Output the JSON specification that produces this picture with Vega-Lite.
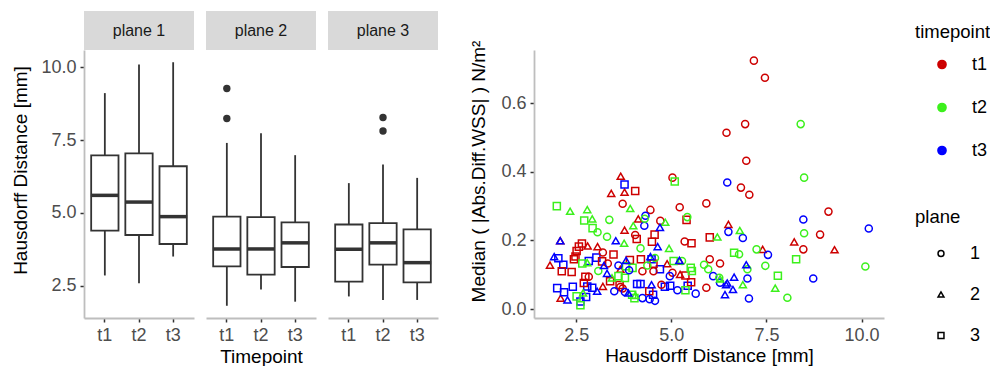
{
  "$schema": "https://vega.github.io/schema/vega-lite/v6.json",
  "padding": {"left": 11, "top": 11, "right": 0, "bottom": 0},
  "config": {
    "font": "Liberation Sans",
    "view": {"stroke": null},
    "axis": {"grid": false, "domainColor": "#BEBEBE", "domainWidth": 1.8, "tickColor": "#333333", "tickWidth": 1.5, "tickSize": 4, "labelFontSize": 18, "labelColor": "#4D4D4D", "titleFontSize": 19, "titleFontWeight": "normal", "titleColor": "#000000", "labelPadding": 4, "titlePadding": 10}
  },
  "datasets": {
    "boxes": [
      {"plane": 1, "timepoint": "t1", "lower": 2.85, "q1": 4.39, "median": 5.6, "q3": 6.97, "upper": 9.11},
      {"plane": 1, "timepoint": "t2", "lower": 2.58, "q1": 4.24, "median": 5.37, "q3": 7.04, "upper": 10.09},
      {"plane": 1, "timepoint": "t3", "lower": 3.5, "q1": 3.93, "median": 4.87, "q3": 6.6, "upper": 10.17},
      {"plane": 2, "timepoint": "t1", "lower": 1.81, "q1": 3.16, "median": 3.76, "q3": 4.87, "upper": 7.4},
      {"plane": 2, "timepoint": "t2", "lower": 2.37, "q1": 2.88, "median": 3.76, "q3": 4.85, "upper": 7.73},
      {"plane": 2, "timepoint": "t3", "lower": 1.95, "q1": 3.14, "median": 3.97, "q3": 4.67, "upper": 6.98},
      {"plane": 3, "timepoint": "t1", "lower": 2.13, "q1": 2.64, "median": 3.75, "q3": 4.6, "upper": 6.02},
      {"plane": 3, "timepoint": "t2", "lower": 2.01, "q1": 3.22, "median": 3.97, "q3": 4.65, "upper": 6.66},
      {"plane": 3, "timepoint": "t3", "lower": 2.01, "q1": 2.61, "median": 3.29, "q3": 4.43, "upper": 6.2}
    ],
    "outliers": [
      {"plane": 2, "timepoint": "t1", "hd": 9.27},
      {"plane": 2, "timepoint": "t1", "hd": 8.24},
      {"plane": 3, "timepoint": "t2", "hd": 8.27},
      {"plane": 3, "timepoint": "t2", "hd": 7.81}
    ],
    "points": [
      {"hd": 3.67, "wss": 0.387, "timepoint": "t1", "plane": 2},
      {"hd": 3.42, "wss": 0.337, "timepoint": "t1", "plane": 2},
      {"hd": 3.77, "wss": 0.341, "timepoint": "t1", "plane": 2},
      {"hd": 4.13, "wss": 0.263, "timepoint": "t1", "plane": 2},
      {"hd": 3.77, "wss": 0.23, "timepoint": "t1", "plane": 2},
      {"hd": 2.8, "wss": 0.184, "timepoint": "t1", "plane": 2},
      {"hd": 3.06, "wss": 0.182, "timepoint": "t1", "plane": 2},
      {"hd": 1.81, "wss": 0.128, "timepoint": "t1", "plane": 2},
      {"hd": 3.66, "wss": 0.116, "timepoint": "t1", "plane": 2},
      {"hd": 4.89, "wss": 0.132, "timepoint": "t1", "plane": 2},
      {"hd": 5.22, "wss": 0.14, "timepoint": "t1", "plane": 2},
      {"hd": 5.23, "wss": 0.101, "timepoint": "t1", "plane": 2},
      {"hd": 2.09, "wss": 0.032, "timepoint": "t1", "plane": 2},
      {"hd": 3.2, "wss": 0.066, "timepoint": "t1", "plane": 2},
      {"hd": 6.5, "wss": 0.247, "timepoint": "t1", "plane": 2},
      {"hd": 8.23, "wss": 0.196, "timepoint": "t1", "plane": 2},
      {"hd": 9.29, "wss": 0.173, "timepoint": "t1", "plane": 2},
      {"hd": 7.4, "wss": 0.174, "timepoint": "t1", "plane": 2},
      {"hd": 2.08, "wss": 0.199, "timepoint": "t1", "plane": 2},
      {"hd": 3.77, "wss": 0.363, "timepoint": "t3", "plane": 3},
      {"hd": 2.03, "wss": 0.148, "timepoint": "t3", "plane": 3},
      {"hd": 2.16, "wss": 0.129, "timepoint": "t3", "plane": 3},
      {"hd": 2.83, "wss": 0.14, "timepoint": "t3", "plane": 3},
      {"hd": 3.03, "wss": 0.15, "timepoint": "t3", "plane": 3},
      {"hd": 4.48, "wss": 0.145, "timepoint": "t3", "plane": 3},
      {"hd": 4.7, "wss": 0.116, "timepoint": "t3", "plane": 3},
      {"hd": 2.0, "wss": 0.061, "timepoint": "t3", "plane": 3},
      {"hd": 2.18, "wss": 0.049, "timepoint": "t3", "plane": 3},
      {"hd": 2.41, "wss": 0.065, "timepoint": "t3", "plane": 3},
      {"hd": 2.61, "wss": 0.022, "timepoint": "t3", "plane": 3},
      {"hd": 2.76, "wss": 0.035, "timepoint": "t3", "plane": 3},
      {"hd": 2.79, "wss": 0.066, "timepoint": "t3", "plane": 3},
      {"hd": 2.92, "wss": 0.062, "timepoint": "t3", "plane": 3},
      {"hd": 4.19, "wss": 0.073, "timepoint": "t3", "plane": 3},
      {"hd": 4.1, "wss": 0.073, "timepoint": "t3", "plane": 3},
      {"hd": 4.52, "wss": 0.042, "timepoint": "t3", "plane": 3},
      {"hd": 4.97, "wss": 0.068, "timepoint": "t3", "plane": 3},
      {"hd": 4.83, "wss": 0.065, "timepoint": "t3", "plane": 3},
      {"hd": 5.43, "wss": 0.068, "timepoint": "t3", "plane": 3},
      {"hd": 4.05, "wss": 0.344, "timepoint": "t1", "plane": 3},
      {"hd": 5.4, "wss": 0.26, "timepoint": "t1", "plane": 3},
      {"hd": 4.56, "wss": 0.217, "timepoint": "t1", "plane": 3},
      {"hd": 4.09, "wss": 0.204, "timepoint": "t1", "plane": 3},
      {"hd": 4.49, "wss": 0.196, "timepoint": "t1", "plane": 3},
      {"hd": 5.53, "wss": 0.192, "timepoint": "t1", "plane": 3},
      {"hd": 6.01, "wss": 0.209, "timepoint": "t1", "plane": 3},
      {"hd": 2.65, "wss": 0.191, "timepoint": "t1", "plane": 3},
      {"hd": 3.48, "wss": 0.159, "timepoint": "t1", "plane": 3},
      {"hd": 2.57, "wss": 0.182, "timepoint": "t1", "plane": 3},
      {"hd": 2.51, "wss": 0.169, "timepoint": "t1", "plane": 3},
      {"hd": 2.12, "wss": 0.11, "timepoint": "t1", "plane": 3},
      {"hd": 2.38, "wss": 0.108, "timepoint": "t1", "plane": 3},
      {"hd": 2.44, "wss": 0.145, "timepoint": "t1", "plane": 3},
      {"hd": 2.48, "wss": 0.153, "timepoint": "t1", "plane": 3},
      {"hd": 3.18, "wss": 0.139, "timepoint": "t1", "plane": 3},
      {"hd": 3.91, "wss": 0.143, "timepoint": "t1", "plane": 3},
      {"hd": 4.2, "wss": 0.145, "timepoint": "t1", "plane": 3},
      {"hd": 4.53, "wss": 0.132, "timepoint": "t1", "plane": 3},
      {"hd": 5.37, "wss": 0.098, "timepoint": "t1", "plane": 3},
      {"hd": 2.7, "wss": 0.076, "timepoint": "t1", "plane": 3},
      {"hd": 2.74, "wss": 0.094, "timepoint": "t1", "plane": 3},
      {"hd": 3.39, "wss": 0.081, "timepoint": "t1", "plane": 3},
      {"hd": 3.64, "wss": 0.07, "timepoint": "t1", "plane": 3},
      {"hd": 4.42, "wss": 0.052, "timepoint": "t1", "plane": 3},
      {"hd": 5.52, "wss": 0.078, "timepoint": "t1", "plane": 3},
      {"hd": 5.03, "wss": 0.383, "timepoint": "t1", "plane": 1},
      {"hd": 3.72, "wss": 0.307, "timepoint": "t1", "plane": 1},
      {"hd": 4.45, "wss": 0.289, "timepoint": "t1", "plane": 1},
      {"hd": 5.22, "wss": 0.297, "timepoint": "t1", "plane": 1},
      {"hd": 5.92, "wss": 0.308, "timepoint": "t1", "plane": 1},
      {"hd": 4.71, "wss": 0.257, "timepoint": "t1", "plane": 1},
      {"hd": 4.05, "wss": 0.216, "timepoint": "t1", "plane": 1},
      {"hd": 5.35, "wss": 0.197, "timepoint": "t1", "plane": 1},
      {"hd": 3.2, "wss": 0.165, "timepoint": "t1", "plane": 1},
      {"hd": 3.33, "wss": 0.133, "timepoint": "t1", "plane": 1},
      {"hd": 4.24, "wss": 0.11, "timepoint": "t1", "plane": 1},
      {"hd": 4.53, "wss": 0.11, "timepoint": "t1", "plane": 1},
      {"hd": 5.03, "wss": 0.106, "timepoint": "t1", "plane": 1},
      {"hd": 6.01, "wss": 0.145, "timepoint": "t1", "plane": 1},
      {"hd": 6.28, "wss": 0.133, "timepoint": "t1", "plane": 1},
      {"hd": 2.83, "wss": 0.094, "timepoint": "t1", "plane": 1},
      {"hd": 3.66, "wss": 0.064, "timepoint": "t1", "plane": 1},
      {"hd": 3.72, "wss": 0.06, "timepoint": "t1", "plane": 1},
      {"hd": 4.74, "wss": 0.071, "timepoint": "t1", "plane": 1},
      {"hd": 5.92, "wss": 0.062, "timepoint": "t1", "plane": 1},
      {"hd": 7.17, "wss": 0.724, "timepoint": "t1", "plane": 1},
      {"hd": 7.46, "wss": 0.674, "timepoint": "t1", "plane": 1},
      {"hd": 6.94, "wss": 0.539, "timepoint": "t1", "plane": 1},
      {"hd": 6.45, "wss": 0.514, "timepoint": "t1", "plane": 1},
      {"hd": 6.97, "wss": 0.432, "timepoint": "t1", "plane": 1},
      {"hd": 6.83, "wss": 0.354, "timepoint": "t1", "plane": 1},
      {"hd": 7.05, "wss": 0.333, "timepoint": "t1", "plane": 1},
      {"hd": 9.13, "wss": 0.284, "timepoint": "t1", "plane": 1},
      {"hd": 8.91, "wss": 0.217, "timepoint": "t1", "plane": 1},
      {"hd": 8.47, "wss": 0.174, "timepoint": "t1", "plane": 1},
      {"hd": 5.09, "wss": 0.372, "timepoint": "t2", "plane": 3},
      {"hd": 1.99, "wss": 0.3, "timepoint": "t2", "plane": 3},
      {"hd": 2.71, "wss": 0.258, "timepoint": "t2", "plane": 3},
      {"hd": 2.93, "wss": 0.236, "timepoint": "t2", "plane": 3},
      {"hd": 2.66, "wss": 0.133, "timepoint": "t2", "plane": 3},
      {"hd": 3.81, "wss": 0.125, "timepoint": "t2", "plane": 3},
      {"hd": 3.98, "wss": 0.12, "timepoint": "t2", "plane": 3},
      {"hd": 5.06, "wss": 0.14, "timepoint": "t2", "plane": 3},
      {"hd": 5.51, "wss": 0.12, "timepoint": "t2", "plane": 3},
      {"hd": 5.54, "wss": 0.111, "timepoint": "t2", "plane": 3},
      {"hd": 2.51, "wss": 0.037, "timepoint": "t2", "plane": 3},
      {"hd": 2.61, "wss": 0.011, "timepoint": "t2", "plane": 3},
      {"hd": 3.61, "wss": 0.096, "timepoint": "t2", "plane": 3},
      {"hd": 3.78, "wss": 0.091, "timepoint": "t2", "plane": 3},
      {"hd": 3.97, "wss": 0.042, "timepoint": "t2", "plane": 3},
      {"hd": 4.03, "wss": 0.032, "timepoint": "t2", "plane": 3},
      {"hd": 5.37, "wss": 0.055, "timepoint": "t2", "plane": 3},
      {"hd": 6.65, "wss": 0.164, "timepoint": "t2", "plane": 3},
      {"hd": 8.28, "wss": 0.145, "timepoint": "t2", "plane": 3},
      {"hd": 7.8, "wss": 0.097, "timepoint": "t2", "plane": 3},
      {"hd": 6.47, "wss": 0.369, "timepoint": "t3", "plane": 1},
      {"hd": 4.29, "wss": 0.243, "timepoint": "t3", "plane": 1},
      {"hd": 4.32, "wss": 0.272, "timepoint": "t3", "plane": 1},
      {"hd": 3.61, "wss": 0.127, "timepoint": "t3", "plane": 1},
      {"hd": 3.89, "wss": 0.113, "timepoint": "t3", "plane": 1},
      {"hd": 4.96, "wss": 0.096, "timepoint": "t3", "plane": 1},
      {"hd": 6.1, "wss": 0.096, "timepoint": "t3", "plane": 1},
      {"hd": 3.5, "wss": 0.052, "timepoint": "t3", "plane": 1},
      {"hd": 3.78, "wss": 0.05, "timepoint": "t3", "plane": 1},
      {"hd": 4.24, "wss": 0.032, "timepoint": "t3", "plane": 1},
      {"hd": 4.43, "wss": 0.029, "timepoint": "t3", "plane": 1},
      {"hd": 4.57, "wss": 0.024, "timepoint": "t3", "plane": 1},
      {"hd": 5.16, "wss": 0.055, "timepoint": "t3", "plane": 1},
      {"hd": 5.64, "wss": 0.045, "timepoint": "t3", "plane": 1},
      {"hd": 8.47, "wss": 0.261, "timepoint": "t3", "plane": 1},
      {"hd": 10.19, "wss": 0.235, "timepoint": "t3", "plane": 1},
      {"hd": 6.5, "wss": 0.225, "timepoint": "t3", "plane": 1},
      {"hd": 6.88, "wss": 0.207, "timepoint": "t3", "plane": 1},
      {"hd": 7.54, "wss": 0.158, "timepoint": "t3", "plane": 1},
      {"hd": 7.0, "wss": 0.089, "timepoint": "t3", "plane": 1},
      {"hd": 8.73, "wss": 0.089, "timepoint": "t3", "plane": 1},
      {"hd": 7.04, "wss": 0.031, "timepoint": "t3", "plane": 1},
      {"hd": 6.28, "wss": 0.077, "timepoint": "t3", "plane": 1},
      {"hd": 2.34, "wss": 0.285, "timepoint": "t2", "plane": 2},
      {"hd": 2.79, "wss": 0.29, "timepoint": "t2", "plane": 2},
      {"hd": 3.92, "wss": 0.293, "timepoint": "t2", "plane": 2},
      {"hd": 2.92, "wss": 0.263, "timepoint": "t2", "plane": 2},
      {"hd": 4.0, "wss": 0.243, "timepoint": "t2", "plane": 2},
      {"hd": 4.84, "wss": 0.253, "timepoint": "t2", "plane": 2},
      {"hd": 6.21, "wss": 0.21, "timepoint": "t2", "plane": 2},
      {"hd": 3.76, "wss": 0.192, "timepoint": "t2", "plane": 2},
      {"hd": 4.94, "wss": 0.177, "timepoint": "t2", "plane": 2},
      {"hd": 2.79, "wss": 0.135, "timepoint": "t2", "plane": 2},
      {"hd": 3.44, "wss": 0.091, "timepoint": "t2", "plane": 2},
      {"hd": 2.68, "wss": 0.047, "timepoint": "t2", "plane": 2},
      {"hd": 6.8, "wss": 0.229, "timepoint": "t2", "plane": 2},
      {"hd": 6.28, "wss": 0.088, "timepoint": "t2", "plane": 2},
      {"hd": 6.88, "wss": 0.071, "timepoint": "t2", "plane": 2},
      {"hd": 7.73, "wss": 0.061, "timepoint": "t2", "plane": 2},
      {"hd": 4.05, "wss": 0.04, "timepoint": "t2", "plane": 2},
      {"hd": 3.37, "wss": 0.26, "timepoint": "t2", "plane": 1},
      {"hd": 3.06, "wss": 0.224, "timepoint": "t2", "plane": 1},
      {"hd": 3.31, "wss": 0.211, "timepoint": "t2", "plane": 1},
      {"hd": 4.3, "wss": 0.263, "timepoint": "t2", "plane": 1},
      {"hd": 5.42, "wss": 0.268, "timepoint": "t2", "plane": 1},
      {"hd": 4.19, "wss": 0.177, "timepoint": "t2", "plane": 1},
      {"hd": 3.08, "wss": 0.111, "timepoint": "t2", "plane": 1},
      {"hd": 4.37, "wss": 0.127, "timepoint": "t2", "plane": 1},
      {"hd": 4.57, "wss": 0.149, "timepoint": "t2", "plane": 1},
      {"hd": 5.28, "wss": 0.14, "timepoint": "t2", "plane": 1},
      {"hd": 5.86, "wss": 0.129, "timepoint": "t2", "plane": 1},
      {"hd": 5.97, "wss": 0.116, "timepoint": "t2", "plane": 1},
      {"hd": 6.26, "wss": 0.091, "timepoint": "t2", "plane": 1},
      {"hd": 8.4, "wss": 0.539, "timepoint": "t2", "plane": 1},
      {"hd": 8.49, "wss": 0.383, "timepoint": "t2", "plane": 1},
      {"hd": 8.49, "wss": 0.221, "timepoint": "t2", "plane": 1},
      {"hd": 7.24, "wss": 0.174, "timepoint": "t2", "plane": 1},
      {"hd": 6.78, "wss": 0.16, "timepoint": "t2", "plane": 1},
      {"hd": 7.47, "wss": 0.126, "timepoint": "t2", "plane": 1},
      {"hd": 10.1, "wss": 0.124, "timepoint": "t2", "plane": 1},
      {"hd": 7.0, "wss": 0.116, "timepoint": "t2", "plane": 1},
      {"hd": 8.05, "wss": 0.033, "timepoint": "t2", "plane": 1},
      {"hd": 4.7, "wss": 0.238, "timepoint": "t3", "plane": 2},
      {"hd": 2.08, "wss": 0.199, "timepoint": "t3", "plane": 2},
      {"hd": 3.54, "wss": 0.199, "timepoint": "t3", "plane": 2},
      {"hd": 4.64, "wss": 0.182, "timepoint": "t3", "plane": 2},
      {"hd": 1.92, "wss": 0.153, "timepoint": "t3", "plane": 2},
      {"hd": 3.23, "wss": 0.127, "timepoint": "t3", "plane": 2},
      {"hd": 3.31, "wss": 0.104, "timepoint": "t3", "plane": 2},
      {"hd": 3.81, "wss": 0.142, "timepoint": "t3", "plane": 2},
      {"hd": 4.45, "wss": 0.153, "timepoint": "t3", "plane": 2},
      {"hd": 6.47, "wss": 0.076, "timepoint": "t3", "plane": 2},
      {"hd": 2.27, "wss": 0.027, "timepoint": "t3", "plane": 2},
      {"hd": 3.05, "wss": 0.052, "timepoint": "t3", "plane": 2},
      {"hd": 3.87, "wss": 0.047, "timepoint": "t3", "plane": 2},
      {"hd": 4.48, "wss": 0.071, "timepoint": "t3", "plane": 2},
      {"hd": 6.97, "wss": 0.129, "timepoint": "t3", "plane": 2},
      {"hd": 6.65, "wss": 0.093, "timepoint": "t3", "plane": 2},
      {"hd": 6.44, "wss": 0.071, "timepoint": "t3", "plane": 2},
      {"hd": 6.41, "wss": 0.042, "timepoint": "t3", "plane": 2},
      {"hd": 6.62, "wss": 0.057, "timepoint": "t3", "plane": 2},
      {"hd": 5.21, "wss": 0.142, "timepoint": "t3", "plane": 2}
    ]
  },
  "spacing": 31,
  "resolve": {"scale": {"color": "independent", "shape": "independent"}, "legend": {"color": "independent", "shape": "independent"}},
  "hconcat": [
    {
      "spacing": 12,
      "hconcat": [
        {
          "spacing": 0,
          "vconcat": [
            {"width": 110, "height": 39, "data": {"values": [{"label": "plane 1"}]}, "view": {"fill": "#D9D9D9", "stroke": null},
             "mark": {"type": "text", "fontSize": 16, "color": "#1A1A1A"}, "encoding": {"text": {"field": "label"}}},
            {
              "width": 110, "height": 268,
              "layer": [
                {"data": {"name": "boxes"}, "transform": [{"filter": "datum.plane == 1"}], "mark": {"type": "rule", "color": "#333333", "strokeWidth": 1.8},
                 "encoding": {"x": {"field": "timepoint", "type": "nominal", "scale": {"domain": ["t1", "t2", "t3"], "paddingInner": 0.2, "paddingOuter": 0.21}, "axis": {"title": null, "labelAngle": 0}},
                              "y": {"field": "lower", "type": "quantitative", "scale": {"domain": [1.39, 10.59], "nice": false, "zero": false}, "axis": {"title": "Hausdorff Distance [mm]", "values": [2.5, 5, 7.5, 10], "format": ".1f", "titleY": 120}},
                              "y2": {"field": "upper"}}},
                {"data": {"name": "boxes"}, "transform": [{"filter": "datum.plane == 1"}], "mark": {"type": "bar", "fill": "white", "stroke": "#333333", "strokeWidth": 1.8},
                 "encoding": {"x": {"field": "timepoint", "type": "nominal"}, "y": {"field": "q1", "type": "quantitative"}, "y2": {"field": "q3"}}},
                {"data": {"name": "boxes"}, "transform": [{"filter": "datum.plane == 1"}], "mark": {"type": "tick", "color": "#333333", "thickness": 3.5, "size": 28, "opacity": 1},
                 "encoding": {"x": {"field": "timepoint", "type": "nominal"}, "y": {"field": "median", "type": "quantitative"}}}
              ]
            }
          ]
        },
        {
          "spacing": 0,
          "vconcat": [
            {"width": 110, "height": 39, "data": {"values": [{"label": "plane 2"}]}, "view": {"fill": "#D9D9D9", "stroke": null},
             "mark": {"type": "text", "fontSize": 16, "color": "#1A1A1A"}, "encoding": {"text": {"field": "label"}}},
            {
              "width": 110, "height": 268,
              "layer": [
                {"data": {"name": "boxes"}, "transform": [{"filter": "datum.plane == 2"}], "mark": {"type": "rule", "color": "#333333", "strokeWidth": 1.8},
                 "encoding": {"x": {"field": "timepoint", "type": "nominal", "scale": {"domain": ["t1", "t2", "t3"], "paddingInner": 0.2, "paddingOuter": 0.21}, "axis": {"title": "Timepoint", "labelAngle": 0, "titlePadding": 3}},
                              "y": {"field": "lower", "type": "quantitative", "scale": {"domain": [1.39, 10.59], "nice": false, "zero": false}, "axis": null},
                              "y2": {"field": "upper"}}},
                {"data": {"name": "boxes"}, "transform": [{"filter": "datum.plane == 2"}], "mark": {"type": "bar", "fill": "white", "stroke": "#333333", "strokeWidth": 1.8},
                 "encoding": {"x": {"field": "timepoint", "type": "nominal"}, "y": {"field": "q1", "type": "quantitative"}, "y2": {"field": "q3"}}},
                {"data": {"name": "boxes"}, "transform": [{"filter": "datum.plane == 2"}], "mark": {"type": "tick", "color": "#333333", "thickness": 3.5, "size": 28, "opacity": 1},
                 "encoding": {"x": {"field": "timepoint", "type": "nominal"}, "y": {"field": "median", "type": "quantitative"}}},
                {"data": {"name": "outliers"}, "transform": [{"filter": "datum.plane == 2"}], "mark": {"type": "circle", "color": "#333333", "size": 55, "opacity": 1},
                 "encoding": {"x": {"field": "timepoint", "type": "nominal"}, "y": {"field": "hd", "type": "quantitative"}}}
              ]
            }
          ]
        },
        {
          "spacing": 0,
          "vconcat": [
            {"width": 110, "height": 39, "data": {"values": [{"label": "plane 3"}]}, "view": {"fill": "#D9D9D9", "stroke": null},
             "mark": {"type": "text", "fontSize": 16, "color": "#1A1A1A"}, "encoding": {"text": {"field": "label"}}},
            {
              "width": 110, "height": 268,
              "layer": [
                {"data": {"name": "boxes"}, "transform": [{"filter": "datum.plane == 3"}], "mark": {"type": "rule", "color": "#333333", "strokeWidth": 1.8},
                 "encoding": {"x": {"field": "timepoint", "type": "nominal", "scale": {"domain": ["t1", "t2", "t3"], "paddingInner": 0.2, "paddingOuter": 0.21}, "axis": {"title": null, "labelAngle": 0}},
                              "y": {"field": "lower", "type": "quantitative", "scale": {"domain": [1.39, 10.59], "nice": false, "zero": false}, "axis": null},
                              "y2": {"field": "upper"}}},
                {"data": {"name": "boxes"}, "transform": [{"filter": "datum.plane == 3"}], "mark": {"type": "bar", "fill": "white", "stroke": "#333333", "strokeWidth": 1.8},
                 "encoding": {"x": {"field": "timepoint", "type": "nominal"}, "y": {"field": "q1", "type": "quantitative"}, "y2": {"field": "q3"}}},
                {"data": {"name": "boxes"}, "transform": [{"filter": "datum.plane == 3"}], "mark": {"type": "tick", "color": "#333333", "thickness": 3.5, "size": 28, "opacity": 1},
                 "encoding": {"x": {"field": "timepoint", "type": "nominal"}, "y": {"field": "median", "type": "quantitative"}}},
                {"data": {"name": "outliers"}, "transform": [{"filter": "datum.plane == 3"}], "mark": {"type": "circle", "color": "#333333", "size": 55, "opacity": 1},
                 "encoding": {"x": {"field": "timepoint", "type": "nominal"}, "y": {"field": "hd", "type": "quantitative"}}}
              ]
            }
          ]
        }
      ]
    },
    {
      "spacing": 0,
      "bounds": "flush",
      "resolve": {"scale": {"color": "independent", "shape": "independent"}, "legend": {"color": "independent", "shape": "independent"}},
      "vconcat": [
        {"width": 350, "height": 39, "data": {"values": [{"label": ""}]}, "mark": {"type": "text"}, "encoding": {"text": {"field": "label"}}},
        {
          "width": 350, "height": 268,
          "data": {"name": "points"},
          "mark": {"type": "point", "filled": false, "size": 50, "strokeWidth": 1.5, "opacity": 1},
          "encoding": {
            "x": {"field": "hd", "type": "quantitative", "scale": {"domain": [1.39, 10.59], "nice": false, "zero": false}, "axis": {"values": [2.5, 5, 7.5, 10], "format": ".1f", "title": "Hausdorff Distance [mm]", "titlePadding": 2}},
            "y": {"field": "wss", "type": "quantitative", "scale": {"domain": [-0.026, 0.755], "nice": false, "zero": false}, "axis": {"values": [0, 0.2, 0.4, 0.6], "format": ".1f", "title": "Median ( |Abs.Diff.WSS| ) N/m²", "titlePadding": 12, "titleY": 121}},
            "color": {"field": "timepoint", "type": "nominal", "scale": {"domain": ["t1", "t2", "t3"], "range": ["#CD0000", "#3CF01C", "#0000FF"]},
                      "legend": {"title": "timepoint", "orient": "none", "legendX": 381, "legendY": -27, "padding": 0, "titleFontSize": 18.5, "titleFontWeight": "normal", "titleColor": "#000000", "labelFontSize": 18, "labelColor": "#000000", "rowPadding": 17, "titlePadding": 14, "symbolSize": 22, "symbolStrokeWidth": 5, "symbolOffset": 18, "labelOffset": 21, "symbolType": "circle"}},
            "shape": {"field": "plane", "type": "nominal", "scale": {"domain": [1, 2, 3], "range": ["circle", "triangle-up", "square"]},
                      "legend": {"title": "plane", "orient": "none", "legendX": 381, "legendY": 158, "padding": 0, "titleFontSize": 18.5, "titleFontWeight": "normal", "titleColor": "#000000", "labelFontSize": 18, "labelColor": "#000000", "rowPadding": 23, "titlePadding": 18, "symbolSize": 35, "symbolOffset": 17, "labelOffset": 20, "symbolStrokeWidth": 1.5, "symbolStrokeColor": "#000000"}}
          }
        }
      ]
    }
  ]
}
